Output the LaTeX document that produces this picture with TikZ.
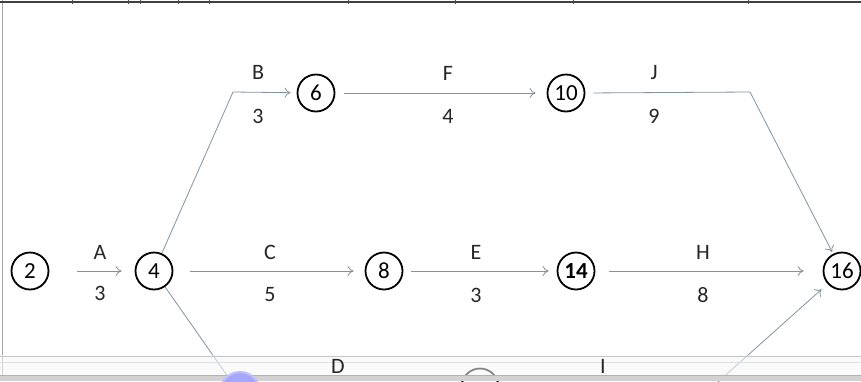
\documentclass[tikz,border=0pt]{standalone}
\usepackage{fontspec}
\setmainfont{Carlito}
\usetikzlibrary{arrows.meta}
\definecolor{edgec}{HTML}{8593A0}
\begin{document}
\begin{tikzpicture}[x=1pt,y=-1pt,
  ev/.style={circle,draw=black,line width=1.8pt,minimum size=37pt,inner sep=0pt,font=\fontsize{23}{23}\selectfont},
  act/.style={draw=edgec,line width=0.8pt,-{To[length=6pt,width=10pt]}},
  lnk/.style={draw=edgec,line width=0.8pt},
  lbl/.style={font=\fontsize{22}{22}\selectfont,text=black!85,inner sep=0pt}]
\useasboundingbox (0,0) rectangle (861,381);
\clip (0,0) rectangle (861,381);
\fill[white] (0,0) rectangle (861,381);
% frame
\draw[gray!70,line width=1pt] (2,0) -- (2,381);
\draw[black!75,line width=1.4pt] (0,2) -- (861,2);
\foreach \xx in {72,128,140,178,209,348,455,573,748} \draw[black!70,line width=0.8pt] (\xx,0) -- (\xx,4);
% events
\node[ev] (n2) at (30,271) {2};
\node[ev] (n4) at (154,271) {4};
\node[ev] (n6) at (316,93) {6};
\node[ev] (n10) at (566,93) {10};
\node[ev] (n8) at (384,271) {8};
\node[ev] (n14) at (576,271) {\textbf{14}};
\node[ev] (n16) at (842,271) {16};
\node[ev] (n12) at (480,387) {};
\node[circle,minimum size=37pt,inner sep=0pt] (n11) at (240,394) {};
\node[circle,minimum size=37pt,inner sep=0pt] (n13) at (700,398) {};
\coordinate (b1) at (233,92);
\coordinate (j1) at (750,92);
% activities
\draw[act,shorten <=28pt,shorten >=13pt] (n2) -- (n4);
\draw[lnk] (n4) -- (b1);
\draw[act,shorten >=6pt] (b1) -- (n6);
\draw[act,shorten <=9pt,shorten >=11pt] (n6) -- (n10);
\draw[lnk,shorten <=8pt] (n10.east) -- (j1);
\draw[act,shorten >=2pt] (j1) -- (n16);
\draw[act,shorten <=17pt,shorten >=11pt] (n4) -- (n8);
\draw[act,shorten <=8pt,shorten >=8pt] (n8) -- (n14);
\draw[act,shorten <=14pt,shorten >=19pt] (n14) -- (n16);
\draw[lnk] (n4) -- (n11);
\draw[act,shorten >=8pt] (n13) -- (n16);
% labels
\node[lbl] (lA) at (100,252) {A};
\node[lbl] (vA) at (100,293) {3};
\node[lbl] (lB) at (258,72) {B};
\node[lbl] (vB) at (258,116) {3};
\node[lbl] (lF) at (448,73) {F};
\node[lbl] (vF) at (448,116) {4};
\node[lbl] (lJ) at (654,73) {J};
\node[lbl] (vJ) at (654,116) {9};
\node[lbl] (lC) at (270,252) {C};
\node[lbl] (vC) at (270,295) {5};
\node[lbl] (lE) at (476,252) {E};
\node[lbl] (vE) at (476,295) {3};
\node[lbl] (lH) at (703,252) {H};
\node[lbl] (vH) at (703,295) {8};
% bottom toolbar
\fill[gray!6,opacity=0.55] (0,355) rectangle (861,381);
\draw[gray!45,line width=0.8pt] (0,356) -- (861,356);
\draw[gray!25,line width=0.6pt] (0,362) -- (861,362);
\node[lbl] (lD) at (338,366) {D};
\node[lbl] (lI) at (603,366) {I};
\fill[gray!35] (0,375) rectangle (861,381);
\draw[gray!60,line width=0.8pt] (0,375) -- (861,375);
\fill[blue!35!white,draw=blue!25!white,line width=2pt] (240,392) circle (20);
\end{tikzpicture}
\end{document}
